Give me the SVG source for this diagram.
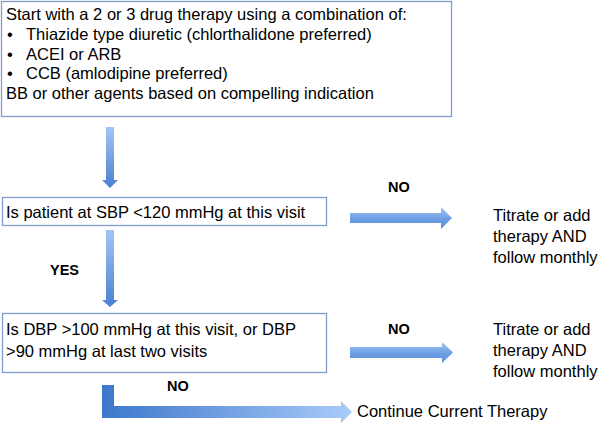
<svg xmlns="http://www.w3.org/2000/svg" width="603" height="423" viewBox="0 0 603 423">
<defs>
<linearGradient id="gv" x1="0" y1="0" x2="0" y2="1">
<stop offset="0" stop-color="#a3c5f5"/>
<stop offset="1" stop-color="#4a80d2"/>
</linearGradient>
<linearGradient id="gh" x1="0" y1="0" x2="0" y2="1">
<stop offset="0" stop-color="#a0c3f3"/>
<stop offset="0.6" stop-color="#6a9ce2"/>
<stop offset="1" stop-color="#5a8fdc"/>
</linearGradient>
<linearGradient id="ge" x1="0" y1="0" x2="1" y2="0">
<stop offset="0" stop-color="#3d77cc"/>
<stop offset="1" stop-color="#a9cbf8"/>
</linearGradient>
<style>
.box{fill:#fff;stroke:#7f9dd0;stroke-width:1.3}
text{font-family:"Liberation Sans",Arial,sans-serif;font-size:16.5px;fill:#000}
.b{font-weight:bold;font-size:14.5px}
</style>
</defs>
<rect width="603" height="423" fill="#fff"/>
<g id="start">
<rect class="box" x="1.5" y="1.5" width="450" height="115"/>
<text x="6" y="20">Start with a 2 or 3 drug therapy using a combination of:</text>
<text x="7" y="40">•</text><text x="26" y="40">Thiazide type diuretic (chlorthalidone preferred)</text>
<text x="7" y="59.5">•</text><text x="26" y="59.5">ACEI or ARB</text>
<text x="7" y="79">•</text><text x="26" y="79">CCB (amlodipine preferred)</text>
<text x="6" y="98.5">BB or other agents based on compelling indication</text>
</g>
<g id="sbp">
<rect class="box" x="2.5" y="197.5" width="324" height="28"/>
<text x="6" y="217.5">Is patient at SBP &lt;120 mmHg at this visit</text>
</g>
<g id="dbp">
<rect class="box" x="2.5" y="313.5" width="324" height="59"/>
<text x="6" y="335">Is DBP &gt;100 mmHg at this visit, or DBP</text>
<text x="6" y="357">&gt;90 mmHg at last two visits</text>
</g>
<g id="titrate1">
<text x="493" y="221">Titrate or add</text>
<text x="493" y="242">therapy AND</text>
<text x="493" y="263">follow monthly</text>
</g>
<g id="titrate2">
<text x="493" y="335">Titrate or add</text>
<text x="493" y="356">therapy AND</text>
<text x="493" y="377">follow monthly</text>
</g>
<g id="continue">
<text x="357" y="417">Continue Current Therapy</text>
</g>
<g id="connectors">
<path d="M106,127H114V180H118L110,188L102,180H106Z" fill="url(#gv)"/>
<path d="M106,230H114V300H118L110,307L102,300H106Z" fill="url(#gv)"/>
<path d="M350,213H441V207L452,218L441,229V223H350Z" fill="url(#gh)"/>
<path d="M350,347H442V342L453,352.5L442,363V358H350Z" fill="url(#gh)"/>
<path d="M102,385H114V406H341V401L352,412L341,423V418H102Z" fill="url(#ge)"/>
<text class="b" x="388" y="192">NO</text>
<text class="b" x="388" y="334">NO</text>
<text class="b" x="50" y="275">YES</text>
<text class="b" x="167" y="391">NO</text>
</g>
</svg>
